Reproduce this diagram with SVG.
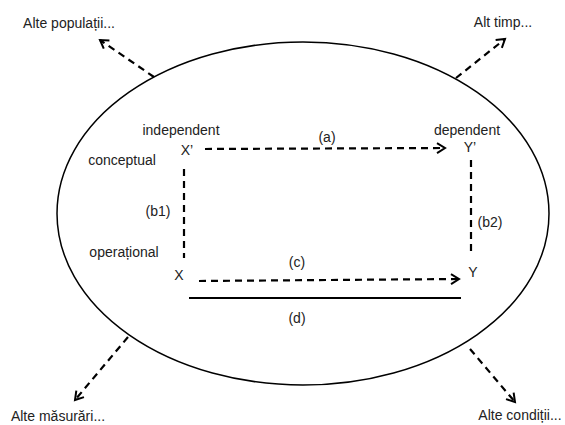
<svg xmlns="http://www.w3.org/2000/svg" width="565" height="425" viewBox="0 0 565 425">
<style>
text{font-family:"Liberation Sans",Arial,sans-serif;font-size:14px;fill:#222}
.d{fill:none;stroke:#000;stroke-width:2.2;stroke-dasharray:7 5}
.s{fill:none;stroke:#000;stroke-width:2}
</style>
<defs>
<marker id="ah" markerUnits="userSpaceOnUse" markerWidth="12" markerHeight="12" refX="9" refY="5" orient="auto" overflow="visible">
<path d="M1,0 L9,5 L1,10" fill="none" stroke="#000" stroke-width="2"/>
</marker>
</defs>
<g id="boundary">
<ellipse cx="303" cy="213.5" rx="246" ry="171.5" fill="none" stroke="#000" stroke-width="1.5"/>
</g>
<g id="connectors">
<line class="d" x1="154" y1="77" x2="100" y2="40" marker-end="url(#ah)"/>
<line class="d" x1="456" y1="78" x2="505" y2="39" marker-end="url(#ah)"/>
<line class="d" x1="128" y1="337" x2="75" y2="400" marker-end="url(#ah)"/>
<line class="d" x1="470" y1="349" x2="515" y2="402" marker-end="url(#ah)"/>
<line class="d" x1="205" y1="149" x2="445" y2="148" marker-end="url(#ah)"/>
<line class="d" x1="184" y1="169" x2="184" y2="258"/>
<line class="d" x1="471" y1="160" x2="471" y2="254"/>
<line class="d" x1="199" y1="281" x2="459" y2="279" marker-end="url(#ah)"/>
<line class="s" x1="189" y1="298" x2="461" y2="298"/>
<text x="327" y="142" text-anchor="middle">(a)</text>
<text x="158" y="216" text-anchor="middle">(b1)</text>
<text x="490" y="227" text-anchor="middle">(b2)</text>
<text x="297" y="267" text-anchor="middle">(c)</text>
<text x="297" y="323" text-anchor="middle">(d)</text>
</g>
<g id="x-prime"><text x="187" y="155" text-anchor="middle">X’</text></g>
<g id="y-prime"><text x="470" y="152" text-anchor="middle">Y’</text></g>
<g id="x"><text x="179" y="280" text-anchor="middle">X</text></g>
<g id="y"><text x="473" y="277" text-anchor="middle">Y</text></g>
<g id="labels">
<text x="181" y="135" text-anchor="middle">independent</text>
<text x="467" y="135" text-anchor="middle">dependent</text>
<text x="122" y="165" text-anchor="middle">conceptual</text>
<text x="124" y="257" text-anchor="middle">operațional</text>
</g>
<g id="populatii"><text x="69" y="28" text-anchor="middle">Alte populații...</text></g>
<g id="timp"><text x="503" y="27" text-anchor="middle">Alt timp...</text></g>
<g id="masurari"><text x="58" y="421" text-anchor="middle">Alte măsurări...</text></g>
<g id="conditii"><text x="520" y="420" text-anchor="middle">Alte condiții...</text></g>
</svg>
